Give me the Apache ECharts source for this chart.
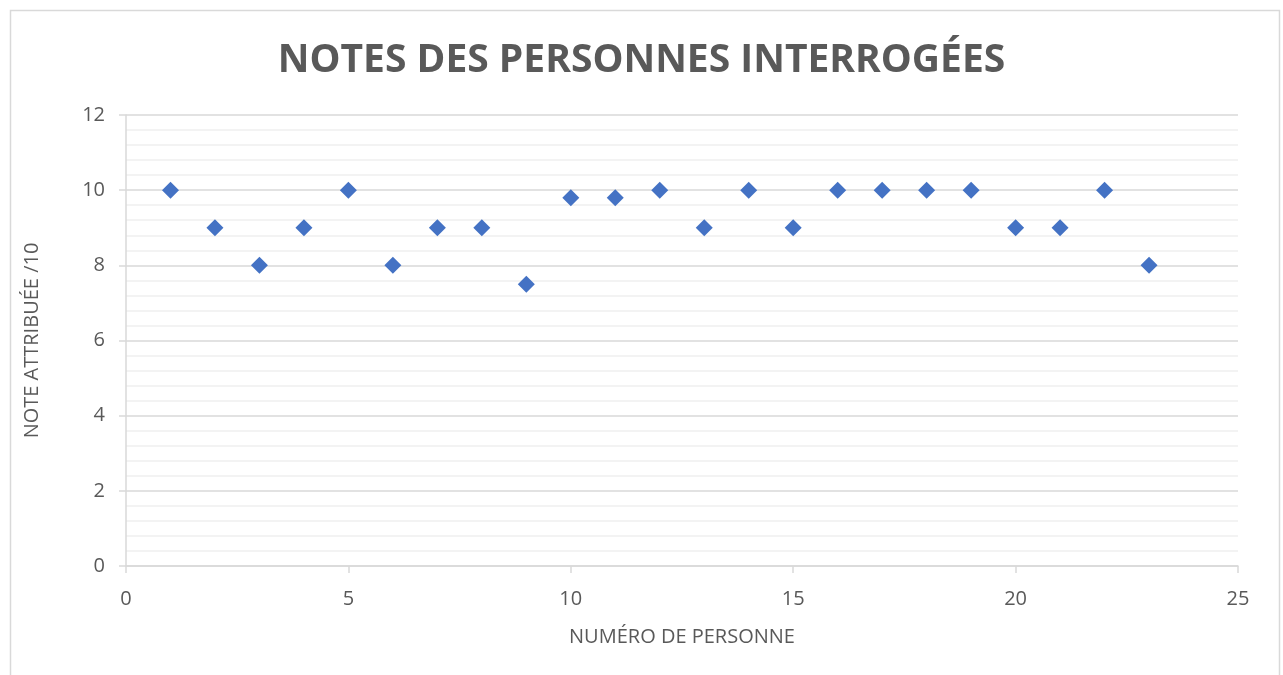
<!DOCTYPE html>
<html>
<head>
<meta charset="utf-8">
<script src="https://cdn.jsdelivr.net/npm/echarts@6/dist/echarts.min.js"></script>
<style>
html,body{margin:0;padding:0;background:#fff;}
#chart{width:1283px;height:675px;}
</style>
</head>
<body>
<div id="chart"></div>
<script>
const titleText = 'NOTES DES PERSONNES INTERROGÉES';
const xAxisName = 'NUMÉRO DE PERSONNE';
const yAxisName = 'NOTE ATTRIBUÉE /10';
const personNumbers = [1,2,3,4,5,6,7,8,9,10,11,12,13,14,15,16,17,18,19,20,21,22,23];
const notes = [10,9,8,9,10,8,9,9,7.5,9.8,9.8,10,9,10,9,10,10,10,10,9,9,10,8];

const chart = echarts.init(document.getElementById('chart'));
const pts = personNumbers.map((p,i)=>[p, notes[i]]);
const gray = '#595959';
chart.setOption({
  animation:false,
  backgroundColor:'#fff',
  title:{
    text:titleText, left:'center', top:36,
    textStyle:{fontFamily:'Open Sans', fontWeight:'bold', fontSize:39, color:gray}
  },
  graphic:[{
    type:'rect', shape:{x:10.5,y:10.5,width:1269,height:700},
    style:{fill:'none', stroke:'#d9d9d9', lineWidth:1.5}, silent:true, z:-1
  }],
  grid:{left:126, right:45, top:115, bottom:109, containLabel:false},
  xAxis:{
    type:'value', min:0, max:25, interval:5,
    name:xAxisName, nameLocation:'middle', nameGap:61,
    nameTextStyle:{fontFamily:'Open Sans', fontSize:20, color:gray},
    axisLine:{show:true, onZero:false, lineStyle:{color:'#d9d9d9', width:1.5}},
    axisTick:{show:true, length:7, lineStyle:{color:'#d9d9d9', width:1.5}},
    axisLabel:{fontFamily:'Open Sans', fontSize:20, color:gray, margin:23},
    splitLine:{show:false}
  },
  yAxis:{
    type:'value', min:0, max:12, interval:2,
    name:yAxisName, nameLocation:'middle', nameGap:84, nameRotate:90,
    nameTextStyle:{fontFamily:'Open Sans', fontSize:20, color:gray},
    axisLine:{show:true, onZero:false, lineStyle:{color:'#d9d9d9', width:1.5}},
    axisTick:{show:true, length:7, lineStyle:{color:'#d9d9d9', width:1.5}},
    axisLabel:{fontFamily:'Open Sans', fontSize:20, color:gray, margin:21},
    splitLine:{show:true, lineStyle:{color:'#d9d9d9', width:1.5}},
    minorTick:{show:false, splitNumber:5},
    minorSplitLine:{show:true, lineStyle:{color:'#f0f0f0', width:1.5}}
  },
  series:[{
    type:'scatter', data:pts, symbol:'diamond', symbolSize:17,
    itemStyle:{color:'#4472C4', opacity:1}
  }]
});
</script>
</body>
</html>
